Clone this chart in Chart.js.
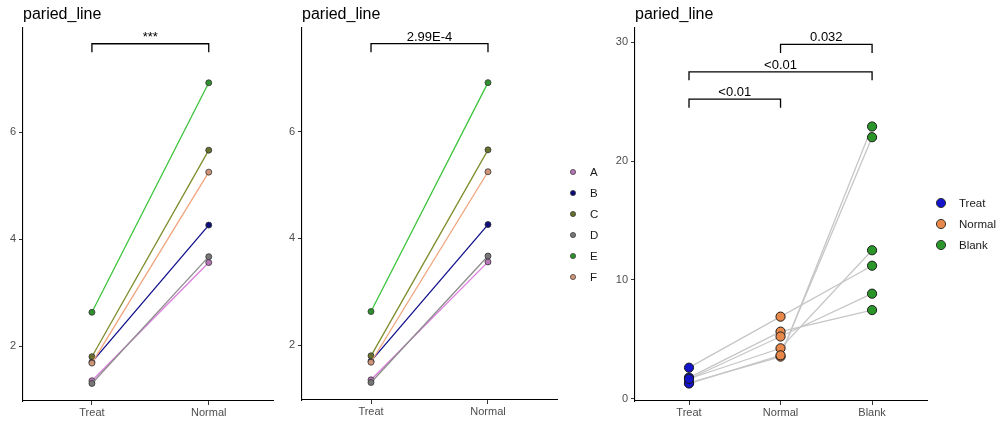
<!DOCTYPE html>
<html>
<head>
<meta charset="utf-8">
<script src="https://cdn.jsdelivr.net/npm/chart.js@4.4.1/dist/chart.umd.min.js"></script>
<style>
  body { margin: 0; background: #fff; }
  #wrap { position: relative; width: 1000px; height: 425px; overflow: hidden; }
  canvas { position: absolute; top: 0; }
</style>
</head>
<body>
<div id="wrap">
  <canvas id="p1" width="280" height="425" style="left:0;width:280px;height:425px"></canvas>
  <canvas id="p2" width="320" height="425" style="left:280px;width:320px;height:425px"></canvas>
  <canvas id="p3" width="400" height="425" style="left:600px;width:400px;height:425px"></canvas>
</div>
<script>
const SAMPLES = ["A", "B", "C", "D", "E", "F"];
const GROUPS = ["Treat", "Normal", "Blank"];

// values per sample, same order as SAMPLES
const TREAT = [1.35, 1.70, 1.80, 1.30, 2.63, 1.68];
const NORMAL = [3.56, 4.26, 5.66, 3.67, 6.92, 5.25];
const BLANK = [22.9, 12.5, 7.47, 22.0, 11.2, 8.85];

const Y_TICKS_LEFT = [2, 4, 6];
const Y_TICKS_RIGHT = [0, 10, 20, 30];

// significance brackets
const BR1_PAIRS = [[1, 2]];
const BR1_Y = [7.65];
const BR1_LABELS = ["***"];

const BR2_PAIRS = [[1, 2]];
const BR2_Y = [7.65];
const BR2_LABELS = ["2.99E-4"];

const BR3_PAIRS = [[1, 2], [1, 3], [2, 3]];
const BR3_Y = [25.2, 27.5, 29.8];
const BR3_LABELS = ["<0.01", "<0.01", "0.032"];

const TITLE = "paried_line";

const SAMPLE_COLORS = ["#dc7ddc", "#10108c", "#7f8c2c", "#8c8c8c", "#3cc43c", "#f2a47c"];
const SAMPLE_POINT_COLORS = ["#b774b7", "#0c0c7a", "#68702e", "#777777", "#2f8f2f", "#cf9478"];
const GROUP_COLORS = ["#1414c8", "#e8874a", "#2a962a"];
const FONT = "'Liberation Sans', Arial, sans-serif";

Chart.defaults.font.family = FONT;
Chart.defaults.animation = false;

const titlePlugin = {
  id: "panelTitle",
  afterDraw(chart) {
    const ctx = chart.ctx;
    ctx.save();
    ctx.font = "16px " + FONT;
    ctx.fillStyle = "#000";
    ctx.textAlign = "left";
    ctx.textBaseline = "alphabetic";
    ctx.fillText(TITLE, chart.chartArea.left, 19);
    ctx.restore();
  }
};

const bracketPlugin = {
  id: "brackets",
  afterDatasetsDraw(chart, args, opts) {
    if (!opts.pairs) return;
    const { ctx } = chart;
    const xs = chart.scales.x, ys = chart.scales.y;
    ctx.save();
    ctx.strokeStyle = "#000";
    ctx.lineWidth = 1.3;
    ctx.fillStyle = "#000";
    ctx.font = "13px " + FONT;
    ctx.textAlign = "center";
    ctx.textBaseline = "alphabetic";
    opts.pairs.forEach((pair, i) => {
      const x1 = xs.getPixelForValue(pair[0]);
      const x2 = xs.getPixelForValue(pair[1]);
      const y = ys.getPixelForValue(opts.y[i]);
      ctx.beginPath();
      ctx.moveTo(x1, y + 8.5);
      ctx.lineTo(x1, y);
      ctx.lineTo(x2, y);
      ctx.lineTo(x2, y + 8.5);
      ctx.stroke();
      ctx.fillText(opts.labels[i], (x1 + x2) / 2, y - 3);
    });
    ctx.restore();
  }
};

const legendPlugin = {
  id: "sideLegend",
  afterDraw(chart, args, opts) {
    if (!opts.labels) return;
    const ctx = chart.ctx;
    ctx.save();
    ctx.font = "11.5px " + FONT;
    ctx.textAlign = "left";
    ctx.textBaseline = "middle";
    opts.labels.forEach((lab, i) => {
      const y = opts.y0 + i * opts.step;
      ctx.beginPath();
      ctx.arc(opts.markerX, y, opts.radius, 0, Math.PI * 2);
      ctx.fillStyle = opts.colors[i];
      ctx.fill();
      ctx.lineWidth = opts.radius > 3 ? 1 : 0.7;
      ctx.strokeStyle = "#333";
      ctx.stroke();
      ctx.fillStyle = "#1a1a1a";
      ctx.fillText(lab, opts.textX, y + 0.5);
    });
    ctx.restore();
  }
};

function makeScales(xMax, nGroups, yMin, yMax, yTicks, yWidth, xHeight) {
  const grid = { display: true, drawOnChartArea: false, drawTicks: true, tickLength: 4, tickColor: "#333", tickWidth: 1 };
  const border = { display: true, color: "#000", width: 1.1 };
  return {
    x: {
      type: "linear",
      min: 0.41,
      max: xMax,
      grid: grid,
      border: border,
      afterBuildTicks: (axis) => {
        axis.ticks = GROUPS.slice(0, nGroups).map((g, i) => ({ value: i + 1 }));
      },
      afterFit: (axis) => { axis.height = xHeight; },
      ticks: {
        autoSkip: false,
        maxRotation: 0,
        padding: 1,
        color: "#4d4d4d",
        font: { size: 11 },
        callback: (v) => GROUPS[Math.round(v) - 1]
      }
    },
    y: {
      type: "linear",
      min: yMin,
      max: yMax,
      grid: grid,
      border: border,
      afterBuildTicks: (axis) => {
        axis.ticks = yTicks.map((v) => ({ value: v }));
      },
      afterFit: (axis) => { axis.width = yWidth; },
      ticks: {
        padding: 3,
        color: "#4d4d4d",
        font: { size: 11 }
      }
    }
  };
}

function sampleDatasets() {
  return SAMPLES.map((s, i) => ({
    label: s,
    data: [{ x: 1, y: TREAT[i] }, { x: 2, y: NORMAL[i] }],
    borderColor: SAMPLE_COLORS[i],
    backgroundColor: SAMPLE_COLORS[i],
    borderWidth: 1.3,
    pointRadius: 3,
    pointBackgroundColor: SAMPLE_POINT_COLORS[i],
    pointBorderColor: "#333",
    pointBorderWidth: 0.8,
    order: SAMPLES.length - i   // later samples on top, like ggplot
  }));
}

// panel 1
new Chart(document.getElementById("p1"), {
  type: "line",
  data: { datasets: sampleDatasets() },
  options: {
    responsive: false,
    layout: { padding: { top: 28, right: 7, left: 0, bottom: 0 } },
    scales: makeScales(2.55, 2, 0.972, 7.944, Y_TICKS_LEFT, 23, 24),
    plugins: {
      legend: { display: false },
      tooltip: { enabled: false },
      brackets: { pairs: BR1_PAIRS, y: BR1_Y, labels: BR1_LABELS }
    }
  },
  plugins: [titlePlugin, bracketPlugin]
});

// panel 2
new Chart(document.getElementById("p2"), {
  type: "line",
  data: { datasets: sampleDatasets() },
  options: {
    responsive: false,
    layout: { padding: { top: 28, right: 43, left: 0, bottom: 0 } },
    scales: makeScales(2.59, 2, 0.972, 7.944, Y_TICKS_LEFT, 22, 25),
    plugins: {
      legend: { display: false },
      tooltip: { enabled: false },
      brackets: { pairs: BR2_PAIRS, y: BR2_Y, labels: BR2_LABELS },
      sideLegend: { labels: SAMPLES, colors: SAMPLE_POINT_COLORS, markerX: 293, textX: 310, y0: 172, step: 21, radius: 2.6 }
    }
  },
  plugins: [titlePlugin, bracketPlugin, legendPlugin]
});

// panel 3
const lineSets = SAMPLES.map((s, i) => ({
  label: s,
  data: [{ x: 1, y: TREAT[i] }, { x: 2, y: NORMAL[i] }, { x: 3, y: BLANK[i] }],
  borderColor: "#c6c6c6",
  borderWidth: 1.3,
  pointRadius: 0,
  order: 2
}));
const groupValues = [TREAT, NORMAL, BLANK];
const pointSets = GROUPS.map((g, gi) => ({
  label: g,
  data: groupValues[gi].map((v) => ({ x: gi + 1, y: v })),
  showLine: false,
  pointRadius: 4.6,
  pointBackgroundColor: GROUP_COLORS[gi],
  pointBorderColor: "#1a1a1a",
  pointBorderWidth: 1,
  order: 1
}));

new Chart(document.getElementById("p3"), {
  type: "line",
  data: { datasets: pointSets.concat(lineSets) },
  options: {
    responsive: false,
    layout: { padding: { top: 28, right: 73, left: 0, bottom: 0 } },
    scales: makeScales(3.6, 3, -0.17, 31.18, Y_TICKS_RIGHT, 35, 24),
    plugins: {
      legend: { display: false },
      tooltip: { enabled: false },
      brackets: { pairs: BR3_PAIRS, y: BR3_Y, labels: BR3_LABELS },
      sideLegend: { labels: GROUPS, colors: GROUP_COLORS, markerX: 341, textX: 359, y0: 203, step: 21, radius: 4.6 }
    }
  },
  plugins: [titlePlugin, bracketPlugin, legendPlugin]
});
</script>
</body>
</html>
